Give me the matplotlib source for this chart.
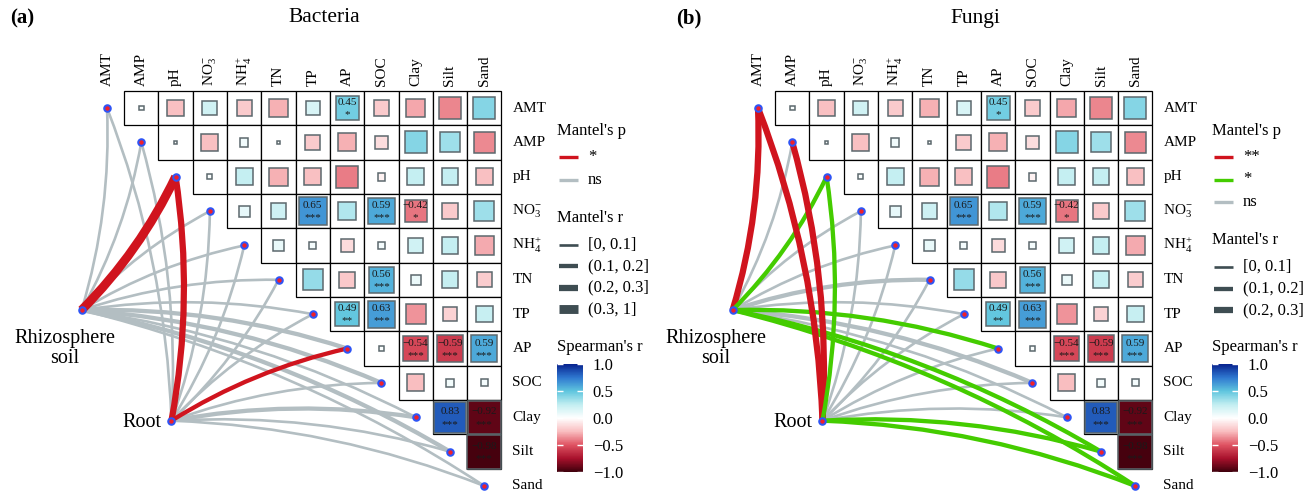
import numpy as np
import pandas as pd
import matplotlib
matplotlib.use('Agg')
import matplotlib.pyplot as plt
from matplotlib.colors import LinearSegmentedColormap, Normalize
from matplotlib.path import Path
from matplotlib.patches import PathPatch, Rectangle
from matplotlib.lines import Line2D

plt.rcParams['font.family'] = ['Liberation Serif', 'DejaVu Serif']
plt.rcParams['mathtext.default'] = 'regular'

# ---------------- data ----------------
variables = ['AMT', 'AMP', 'pH', 'NO3', 'NH4', 'TN', 'TP', 'AP', 'SOC', 'Clay', 'Silt', 'Sand']
var_labels = ['AMT', 'AMP', 'pH', r'NO$_3^{-}$', r'NH$_4^{+}$', 'TN', 'TP', 'AP', 'SOC',
              'Clay', 'Silt', 'Sand']

# Spearman's r, upper triangle (row i against variables i+1 .. Sand)
spearman_rows = [
    [0.02, -0.24, 0.19, -0.20, -0.28, 0.16, 0.45, -0.20, -0.30, -0.38, 0.40],   # AMT
    [0.005, -0.24, 0.06, 0.01, -0.20, -0.28, -0.13, 0.40, 0.34, -0.37],         # AMP
    [0.02, 0.24, -0.28, -0.24, -0.40, -0.05, 0.24, 0.24, -0.24],                # pH
    [0.10, 0.20, 0.65, 0.29, 0.59, -0.42, -0.20, 0.34],                         # NO3
    [0.09, 0.04, -0.14, 0.04, 0.19, 0.24, -0.29],                               # NH4
    [0.36, -0.21, 0.56, 0.085, 0.24, -0.19],                                    # TN
    [0.49, 0.63, -0.35, -0.17, 0.23],                                           # TP
    [0.02, -0.54, -0.59, 0.59],                                                 # AP
    [-0.25, 0.05, 0.04],                                                        # SOC
    [0.83, -0.92],                                                              # Clay
    [-0.98],                                                                    # Silt
]
signif_cells = [('AMT', 'AP', '*'), ('NO3', 'TP', '***'), ('NO3', 'SOC', '***'),
                ('NO3', 'Clay', '*'), ('TN', 'SOC', '***'), ('TP', 'AP', '**'),
                ('TP', 'SOC', '***'), ('AP', 'Clay', '***'), ('AP', 'Silt', '***'),
                ('AP', 'Sand', '***'), ('Clay', 'Silt', '***'), ('Clay', 'Sand', '***'),
                ('Silt', 'Sand', '***')]

# Mantel tests (one value per variable, AMT .. Sand)
bac_rhizo_r = [0.05, 0.04, 0.42, 0.03, 0.06, 0.05, 0.08, 0.15, 0.12, 0.09, 0.16, 0.07]
bac_rhizo_p = [0.42, 0.55, 0.02, 0.61, 0.37, 0.48, 0.29, 0.09, 0.12, 0.25, 0.08, 0.33]
bac_root_r = [0.06, 0.05, 0.26, 0.04, 0.07, 0.06, 0.05, 0.17, 0.08, 0.15, 0.07, 0.05]
bac_root_p = [0.38, 0.44, 0.02, 0.52, 0.31, 0.40, 0.47, 0.04, 0.27, 0.11, 0.35, 0.46]

fun_rhizo_r = [0.26, 0.05, 0.15, 0.04, 0.06, 0.14, 0.05, 0.13, 0.16, 0.07, 0.17, 0.15]
fun_rhizo_p = [0.004, 0.41, 0.02, 0.58, 0.36, 0.08, 0.44, 0.03, 0.07, 0.29, 0.02, 0.03]
fun_root_r = [0.27, 0.24, 0.14, 0.05, 0.04, 0.06, 0.05, 0.07, 0.06, 0.08, 0.16, 0.17]
fun_root_p = [0.002, 0.006, 0.03, 0.47, 0.52, 0.39, 0.45, 0.28, 0.33, 0.21, 0.02, 0.02]

r_bins = [0, 0.1, 0.2, 0.3, 1]
r_labels = ['[0, 0.1]', '(0.1, 0.2]', '(0.2, 0.3]', '(0.3, 1]']
r_widths = [1.9, 3.1, 4.5, 6.4]

RED, GREEN, GRAY = '#D0141E', '#44CC00', '#B3BEC2'
SAMPLE = '#3E4D52'

cmap = LinearSegmentedColormap.from_list('corr', [
    (0.0, '#3F000C'), (0.125, '#A8112C'), (0.25, '#DF5362'), (0.375, '#F9BDBF'),
    (0.5, '#FFFFFF'), (0.625, '#C2EEF1'), (0.75, '#5FC5DE'), (0.875, '#2F78D0'),
    (1.0, '#08238F')])
norm = Normalize(-1, 1)

# ---------------- layout ----------------
W, H = 1307, 492
DX, DY = 34.3, 34.36
fig = plt.figure(figsize=(W / 100, H / 100), dpi=100)

ov = fig.add_axes([0, 0, 1, 1])
ov.set_xlim(0, W)
ov.set_ylim(H, 0)
ov.axis('off')

rhizo_pos = (-0.74, 5.88)
root_pos = (1.88, 9.1)


def link(ax, p0, p1, color, lw, k=0.085):
    x0, y0 = p0
    x1, y1 = p1
    nx, ny = (y1 - y0), -(x1 - x0)
    if nx - ny < 0:
        nx, ny = -nx, -ny
    cx = (x0 + x1) / 2 + k * nx
    cy = (y0 + y1) / 2 + k * ny
    path = Path([p0, (cx, cy), p1], [Path.MOVETO, Path.CURVE3, Path.CURVE3])
    ax.add_patch(PathPatch(path, fill=False, edgecolor=color, lw=lw,
                           capstyle='butt', zorder=2))


def panel(origin_px, mantel, p_cats):
    ax = fig.add_axes([0, 0, 1, 1])
    ax.set_xlim(-origin_px / DX, (W - origin_px) / DX)
    ax.set_ylim((H - 108) / DY, -108 / DY)
    ax.axis('off')
    ax.patch.set_alpha(0)
    n = len(variables)
    idx = {v: i for i, v in enumerate(variables)}
    stars = {(idx[a], idx[b]): s for a, b, s in signif_cells}

    # correlation cells
    for i, row in enumerate(spearman_rows):
        for off, r in enumerate(row):
            j = i + 1 + off
            ax.add_patch(Rectangle((j - 0.5, i - 0.5), 1, 1, fc='white', ec='black',
                                   lw=0.9, zorder=1))
            s = np.sqrt(abs(r))
            ax.add_patch(Rectangle((j - s / 2, i - s / 2), s, s, fc=cmap(norm(r)),
                                   ec='#5C686D', lw=1.1, zorder=1.5))
            if (i, j) in stars:
                ax.text(j, i - 0.16, f'{r:.2f}'.replace('-', '\u2212'), fontsize=8,
                        ha='center', va='center', color='#1A1A1A', zorder=3)
                ax.text(j, i + 0.2, stars[(i, j)], fontsize=8, ha='center',
                        va='center', color='#1A1A1A', zorder=3)

    for k, lab in enumerate(var_labels):
        ax.text(k, -0.64, lab, rotation=90, ha='center', va='bottom', fontsize=11)
        ax.text(n - 1 + 0.82, k, lab, ha='left', va='center', fontsize=11)

    # Mantel links
    items = []
    for src, (r_vals, p_vals) in zip([rhizo_pos, root_pos], mantel):
        width_cat = pd.cut(pd.Series(r_vals), bins=r_bins, labels=False, include_lowest=True)
        for k in range(n):
            color = p_cats(p_vals[k])
            items.append((color != GRAY, src, (k, k), color, r_widths[int(width_cat[k])]))
    for sig, src, dst, color, lw in sorted(items, key=lambda t: t[0]):
        link(ax, src, dst, color, lw)

    xs = [k for k in range(n)] + [rhizo_pos[0], root_pos[0]]
    ys = [k for k in range(n)] + [rhizo_pos[1], root_pos[1]]
    ax.scatter(xs, ys, s=38, c='#2F55F5', zorder=5, linewidths=0, clip_on=False)
    ax.scatter(xs, ys, s=10, c='#F0202A', zorder=6, linewidths=0, clip_on=False)
    ax.text(rhizo_pos[0] - 0.5, rhizo_pos[1] + 0.55, 'Rhizosphere\nsoil', ha='center',
            va='top', fontsize=14.5, linespacing=1.1)
    ax.text(root_pos[0] - 0.3, root_pos[1] + 0.05, 'Root', ha='right', va='center',
            fontsize=14.5)
    return ax


def legend(x0, p_entries, r_count):
    y = 131
    ov.text(x0, y, "Mantel's p", fontsize=12, va='center', ha='left')
    y += 26
    for color, lab in p_entries:
        ov.add_line(Line2D([x0 + 2, x0 + 21], [y, y], color=color, lw=2.4,
                           solid_capstyle='butt'))
        ov.text(x0 + 31, y, lab, fontsize=12, va='center', ha='left')
        y += 22.5
    y += 38 - 22.5
    ov.text(x0, y, "Mantel's r", fontsize=12, va='center', ha='left')
    y += 27
    for lab, lw in zip(r_labels[:r_count], r_widths[:r_count]):
        ov.add_line(Line2D([x0 + 2, x0 + 21], [y, y], color=SAMPLE, lw=lw,
                           solid_capstyle='butt'))
        ov.text(x0 + 31, y, lab, fontsize=12, va='center', ha='left')
        y += 21.5
    ov.text(x0, 347, "Spearman's r", fontsize=12, va='center', ha='left')
    cax = fig.add_axes([x0 / W, 1 - 472 / H, 26 / W, 108 / H])
    sm = plt.cm.ScalarMappable(cmap=cmap, norm=norm)
    cb = fig.colorbar(sm, cax=cax, ticks=[-1, -0.5, 0, 0.5, 1])
    cb.outline.set_visible(False)
    cb.ax.tick_params(direction='in', colors='white', length=4, width=1, left=True,
                      right=True, labelleft=False, labelright=True, labelsize=12,
                      labelcolor='black', pad=7)
    cb.ax.set_yticklabels(['\u22121.0', '\u22120.5', '0.0', '0.5', '1.0'])


def bac_p(p):
    return RED if p < 0.05 else GRAY


def fun_p(p):
    if p < 0.01:
        return RED
    return GREEN if p < 0.05 else GRAY


panel(107, [(bac_rhizo_r, bac_rhizo_p), (bac_root_r, bac_root_p)], bac_p)
panel(758, [(fun_rhizo_r, fun_rhizo_p), (fun_root_r, fun_root_p)], fun_p)

legend(557, [(RED, '*'), (GRAY, 'ns')], 4)
legend(1212, [(RED, '**'), (GREEN, '*'), (GRAY, 'ns')], 3)

ov.text(10, 18, '(a)', fontsize=15, fontweight='bold', ha='left', va='center')
ov.text(324, 18, 'Bacteria', fontsize=15.5, ha='center', va='center')
ov.text(676, 18, '(b)', fontsize=15, fontweight='bold', ha='left', va='center')
ov.text(975, 18, 'Fungi', fontsize=15.5, ha='center', va='center')

fig.savefig('out.png', dpi=100)
